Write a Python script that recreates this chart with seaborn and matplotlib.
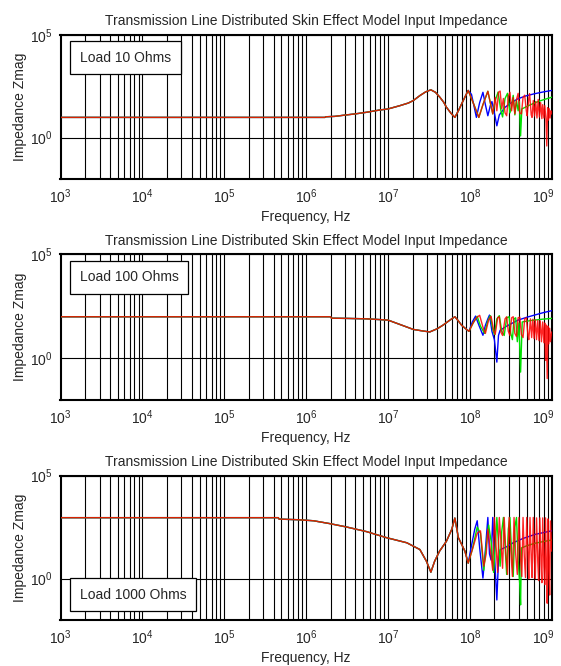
import numpy as np
import pandas as pd
import matplotlib
matplotlib.use("Agg")
import matplotlib.pyplot as plt
from matplotlib.ticker import LogLocator, NullLocator, FixedLocator
from matplotlib.transforms import ScaledTranslation
import seaborn as sns

# All points are (log10 frequency [Hz], log10 |Zin| [ohm]).
TITLE = "Transmission Line Distributed Skin Effect Model Input Impedance"
X_LABEL = "Frequency, Hz"
Y_LABEL = "Impedance Zmag"
load_labels = ["Load 10 Ohms", "Load 100 Ohms", "Load 1000 Ohms"]
series_names = ["model A", "model B", "model C"]
series_colors = ["#0000ff", "#00e000", "#ff0000"]
x_ticks = [1e3, 1e4, 1e5, 1e6, 1e7, 1e8, 1e9]
y_ticks = [1e0, 1e5]

# ---- Load 10 ohms ----
p1_common = [(3.00, 0.98), (6.23, 0.98), (6.24, 1.01), (6.35, 1.03), (6.49, 1.10),
             (6.60, 1.15), (6.74, 1.23), (6.90, 1.34), (7.00, 1.39), (7.145, 1.55),
             (7.25, 1.68), (7.31, 1.80), (7.39, 2.04), (7.46, 2.22), (7.524, 2.32),
             (7.58, 2.20), (7.634, 1.96), (7.68, 1.72), (7.715, 1.47), (7.77, 1.18),
             (7.817, 0.98), (7.86, 1.30), (7.90, 1.64), (7.95, 2.05), (7.98, 2.29)]
p1_blue = [(8.02, 2.10), (8.05, 1.55), (8.08, 0.98), (8.12, 1.70), (8.16, 2.20),
           (8.19, 1.60), (8.22, 1.06), (8.25, 1.55), (8.27, 1.75), (8.30, 1.20),
           (8.33, 0.57), (8.36, 1.10), (8.43, 1.47), (8.50, 1.68), (8.585, 1.88),
           (8.68, 2.02), (8.79, 2.13), (8.90, 2.22), (9.00, 2.29)]
p1_green = [(8.04, 1.70), (8.11, 0.98), (8.16, 1.60), (8.22, 2.25), (8.28, 1.15),
            (8.31, 1.80), (8.345, 2.21), (8.38, 1.30), (8.40, 1.00), (8.43, 1.90),
            (8.46, 2.15), (8.49, 1.20), (8.51, 1.55), (8.53, 2.05), (8.55, 1.10),
            (8.57, 1.80), (8.59, 1.30), (8.605, 1.75), (8.62, 0.08), (8.635, 1.39),
            (8.70, 1.52), (8.80, 1.70), (8.90, 1.84), (9.00, 1.96)]
p1_red = [(8.04, 1.70), (8.11, 0.98), (8.16, 1.60), (8.22, 2.25), (8.28, 1.15),
          (8.31, 1.95), (8.33, 1.30), (8.35, 2.20), (8.37, 2.26), (8.39, 1.40),
          (8.41, 1.90), (8.43, 1.20), (8.45, 1.06), (8.47, 2.00), (8.49, 2.20),
          (8.51, 1.30), (8.53, 1.95), (8.55, 1.15), (8.57, 1.85), (8.59, 2.15),
          (8.61, 1.20), (8.63, 1.15), (8.65, 1.95), (8.67, 2.06), (8.69, 1.30),
          (8.70, 1.06), (8.72, 1.90), (8.73, 2.13), (8.75, 1.10), (8.76, 0.98),
          (8.775, 1.80), (8.79, 1.05), (8.805, 1.75), (8.82, 0.95), (8.835, 1.85),
          (8.85, 1.00), (8.865, 1.70), (8.88, 0.92), (8.89, 1.60), (8.905, 0.95),
          (8.915, 1.55), (8.93, 0.90), (8.94, -0.41), (8.95, 1.45), (8.96, 0.85),
          (8.97, 1.40), (8.98, 0.95), (8.99, 1.30), (9.00, 1.15)]

# ---- Load 100 ohms ----
p2_common = [(3.00, 2.00), (6.30, 2.00), (6.31, 1.93), (6.50, 1.92), (6.74, 1.90),
             (7.00, 1.84), (7.145, 1.63), (7.31, 1.39), (7.42, 1.32), (7.51, 1.27),
             (7.60, 1.42), (7.67, 1.59), (7.75, 1.82), (7.817, 2.00), (7.86, 1.80),
             (7.90, 1.59), (7.95, 1.42), (7.99, 1.30)]
p2_blue = [(8.03, 1.75), (8.07, 2.03), (8.11, 1.60), (8.16, 1.11), (8.19, 1.59),
           (8.22, 1.90), (8.24, 2.08), (8.27, 1.30), (8.30, 0.90), (8.33, -0.18),
           (8.35, 1.10), (8.37, 1.35), (8.45, 1.55), (8.59, 1.84), (8.70, 1.98),
           (8.79, 2.08), (8.90, 2.20), (9.00, 2.29)]
p2_green = [(8.04, 1.70), (8.09, 2.02), (8.13, 1.55), (8.18, 1.20), (8.22, 1.80),
            (8.25, 2.05), (8.28, 1.40), (8.30, 1.15), (8.33, 1.90), (8.36, 2.05),
            (8.39, 1.30), (8.42, 1.10), (8.45, 1.95), (8.48, 2.00), (8.50, 1.20),
            (8.52, 0.90), (8.54, 1.90), (8.56, 1.95), (8.58, 0.80), (8.60, 1.70),
            (8.62, -0.66), (8.64, 1.75), (8.75, 1.82), (8.88, 1.88), (9.00, 1.92)]
p2_red = [(8.04, 1.70), (8.08, 1.95), (8.12, 2.07), (8.16, 1.50), (8.19, 1.20),
          (8.23, 1.85), (8.26, 2.02), (8.29, 1.35), (8.31, 1.15), (8.34, 1.95),
          (8.36, 2.00), (8.38, 1.25), (8.40, 1.10), (8.43, 1.90), (8.45, 2.00),
          (8.47, 1.30), (8.49, 1.10), (8.51, 1.95), (8.53, 2.00), (8.55, 1.20),
          (8.57, 1.05), (8.59, 1.95), (8.61, 1.98), (8.63, 1.15), (8.65, 1.00),
          (8.67, 1.90), (8.69, 1.95), (8.71, 1.10), (8.72, 0.90), (8.74, 1.90),
          (8.755, 1.00), (8.77, 1.88), (8.785, 0.95), (8.80, 1.85), (8.815, 0.90),
          (8.83, 1.82), (8.845, 0.85), (8.86, 1.80), (8.875, 0.80), (8.89, 1.75),
          (8.905, 0.75), (8.915, 1.70), (8.925, -0.10), (8.935, 1.60), (8.945, -0.97),
          (8.955, 1.55), (8.965, 0.70), (8.975, 1.45), (8.985, 0.80), (9.00, 1.27)]

# ---- Load 1000 ohms ----
p3_common = [(3.00, 2.96), (5.66, 2.96), (5.67, 2.89), (5.90, 2.86), (6.09, 2.81),
             (6.29, 2.67), (6.49, 2.51), (6.74, 2.28), (6.98, 1.99), (7.23, 1.74),
             (7.39, 1.41), (7.47, 0.84), (7.524, 0.31), (7.57, 0.84), (7.63, 1.33),
             (7.715, 1.82), (7.78, 2.40), (7.817, 2.94), (7.86, 1.99), (7.94, 1.33),
             (7.98, 0.75)]
p3_blue = [(8.02, 1.60), (8.06, 2.40), (8.09, 2.81), (8.12, 1.50), (8.16, 0.02),
           (8.19, 1.40), (8.22, 2.97), (8.24, 1.20), (8.26, 0.90), (8.28, 2.97),
           (8.30, 1.20), (8.33, -1.04), (8.35, 0.90), (8.37, 1.40), (8.45, 1.55),
           (8.53, 1.74), (8.65, 1.95), (8.80, 2.15), (9.00, 2.32)]
p3_green = [(8.03, 1.40), (8.09, 2.50), (8.13, 2.20), (8.17, 0.40), (8.20, 1.60),
            (8.23, 2.60), (8.26, 1.80), (8.29, 0.30), (8.31, 1.50), (8.33, 2.97),
            (8.35, 1.70), (8.37, 0.60), (8.39, 2.30), (8.41, 2.97), (8.43, 1.60),
            (8.45, 0.20), (8.47, 2.40), (8.49, 2.97), (8.51, 1.30), (8.53, 0.10),
            (8.55, 2.50), (8.57, 2.97), (8.59, 0.90), (8.61, -0.30), (8.62, -1.28),
            (8.63, 1.49), (8.70, 1.60), (8.80, 1.72), (8.90, 1.80), (9.00, 1.87)]
p3_red = [(8.03, 1.40), (8.09, 2.20), (8.13, 2.32), (8.17, 0.60), (8.20, 1.20),
          (8.22, 2.40), (8.25, 1.40), (8.28, 0.40), (8.30, 2.97), (8.32, 1.60),
          (8.34, 0.30), (8.36, 2.97), (8.38, 1.80), (8.40, 0.50), (8.42, 2.97),
          (8.44, 1.20), (8.46, 0.20), (8.48, 2.97), (8.50, 1.40), (8.52, 0.10),
          (8.54, 2.97), (8.56, 1.20), (8.58, 0.20), (8.60, 2.97), (8.62, 1.00),
          (8.635, 0.10), (8.65, 2.97), (8.665, 1.10), (8.68, 0.05), (8.695, 2.97),
          (8.71, 1.20), (8.72, 0.00), (8.735, 2.97), (8.75, 1.00), (8.76, 0.05),
          (8.775, 2.97), (8.79, 0.90), (8.80, 0.00), (8.815, 2.95), (8.83, 0.80),
          (8.84, -0.10), (8.855, 2.95), (8.87, 0.70), (8.88, -0.20), (8.89, 2.95),
          (8.905, 0.60), (8.915, -0.30), (8.925, 2.95), (8.935, 0.50), (8.945, -1.20),
          (8.955, 2.90), (8.965, 0.60), (8.975, -0.80), (8.985, 2.80), (9.00, 1.33)]

panels = [
    (p1_common, [p1_blue, p1_green, p1_red]),
    (p2_common, [p2_blue, p2_green, p2_red]),
    (p3_common, [p3_blue, p3_green, p3_red]),
]

sns.set_style("white")
plt.rcParams["font.family"] = ["Liberation Sans", "DejaVu Sans"]
plt.rcParams["mathtext.default"] = "regular"

fig = plt.figure(figsize=(5.61, 6.66), dpi=100)
W, H = 561.0, 666.0
ax_left, ax_right = 60.5, 551.7
ax_tops = [34.7, 254.3, 475.7]
ax_bottoms = [178.7, 400.0, 619.7]
axes = []

for i, (common, tails) in enumerate(panels):
    ax = fig.add_axes([ax_left / W, 1 - ax_bottoms[i] / H,
                       (ax_right - ax_left) / W, (ax_bottoms[i] - ax_tops[i]) / H])
    axes.append(ax)
    for name, color, tail in zip(series_names, series_colors, tails):
        pts = common + tail
        df = pd.DataFrame(pts, columns=["lf", "lz"])
        df["freq"] = 10.0 ** df["lf"]
        df["zmag"] = 10.0 ** df["lz"]
        sns.lineplot(data=df, x="freq", y="zmag", ax=ax, color=color,
                     linewidth=1.0, estimator=None, sort=False, legend=False,
                     alpha=0.85 if color == "#ff0000" else 1.0, zorder=3)
    ax.set_xscale("log")
    ax.set_yscale("log")
    ax.set_xlim(1e3, 1e9)
    ax.set_ylim(1e-2, 1e5)
    ax.xaxis.set_major_locator(FixedLocator(x_ticks))
    ax.xaxis.set_minor_locator(LogLocator(base=10, subs=np.arange(2, 10), numticks=100))
    ax.yaxis.set_major_locator(FixedLocator(y_ticks))
    ax.yaxis.set_minor_locator(NullLocator())
    ax.grid(True, axis="x", which="both", color="black", linewidth=0.8, zorder=1)
    ax.grid(True, axis="y", which="major", color="black", linewidth=0.8, zorder=1)
    ax.tick_params(axis="both", which="both", length=0, labelsize=10, pad=6)
    for sp in ax.spines.values():
        sp.set_color("black")
        sp.set_linewidth(1.5)
    ax.set_xlabel(X_LABEL, fontsize=10, labelpad=3)
    ax.set_ylabel(Y_LABEL, fontsize=10, labelpad=2)
    ax.set_title(TITLE, fontsize=10, pad=7)
    if i < 2:
        ax.text(0.039, 0.89, load_labels[i], transform=ax.transAxes, ha="left",
                va="top", fontsize=10, zorder=5,
                bbox=dict(boxstyle="square,pad=0.7", facecolor="white",
                          edgecolor="black", linewidth=0.9))
    else:
        ax.text(0.039, 0.125, load_labels[i], transform=ax.transAxes, ha="left",
                va="bottom", fontsize=10, zorder=5,
                bbox=dict(boxstyle="square,pad=0.7", facecolor="white",
                          edgecolor="black", linewidth=0.9))

# Nudge the rightmost frequency label inward so it stays inside the figure.
fig.canvas.draw()
for ax in axes:
    last = ax.xaxis.get_major_ticks()[-1].label1
    last.set_transform(last.get_transform() +
                       ScaledTranslation(-6 / 72.0, 0, fig.dpi_scale_trans))

fig.savefig("out.png", dpi=100, facecolor="white")
